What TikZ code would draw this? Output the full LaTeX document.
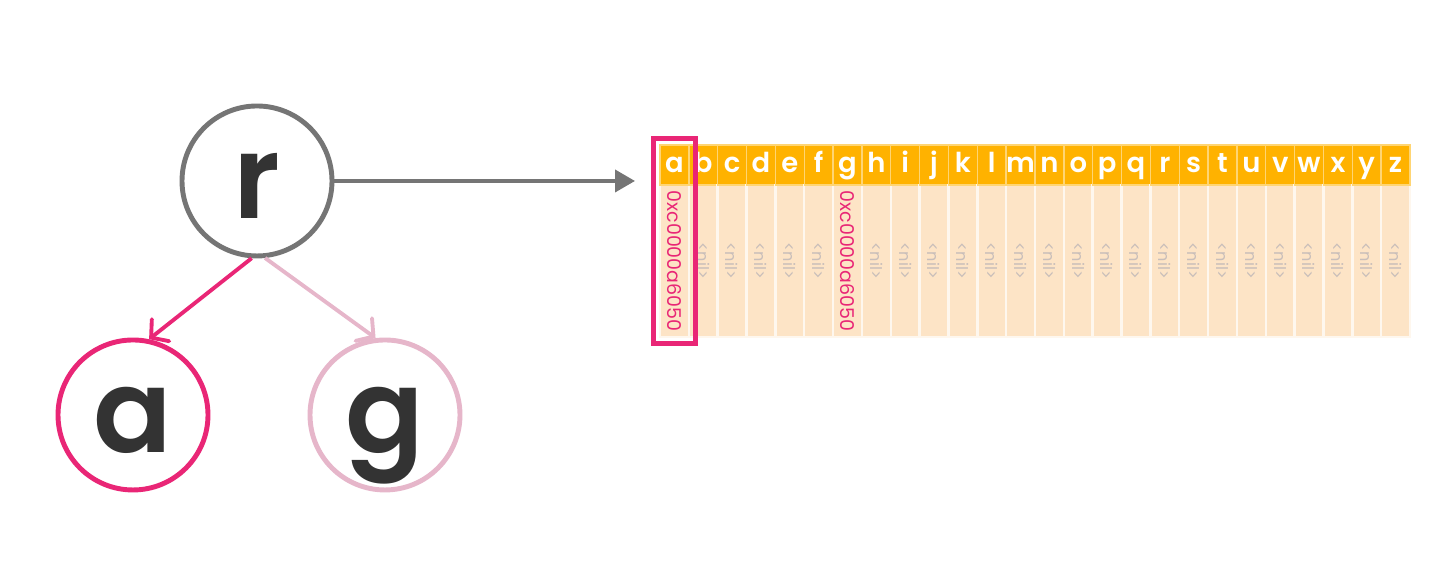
\documentclass[tikz,border=0pt]{standalone}
\usepackage{fontspec}
\setmainfont{Poppins}
\newfontfamily\letterfont{Poppins SemiBold}
\usetikzlibrary{positioning, arrows.meta, fit}
\definecolor{mygray}{RGB}{117,117,117}
\definecolor{mydark}{RGB}{51,51,51}
\definecolor{mypink}{RGB}{233,38,118}
\definecolor{mylightpink}{RGB}{230,182,202}
\definecolor{myorange}{RGB}{255,178,0}
\definecolor{mypeach}{RGB}{253,228,198}
\definecolor{mynil}{RGB}{200,190,186}

\begin{document}
\begin{tikzpicture}[
  letter/.style={circle, minimum size=1.5cm, inner sep=0pt, line width=1.4pt, fill=white, text=mydark, font=\fontsize{33}{33}\letterfont, text height=0.76cm, text depth=0cm},
  hcell/.style={rectangle, minimum width=0.2885cm, minimum height=0.40cm, inner sep=0pt, fill=myorange, draw=myorange!55!white, line width=0.4pt, text=white, font=\fontsize{7.8}{7.8}\letterfont, text height=0.16cm, text depth=0cm},
  bcell/.style={rectangle, minimum width=0.2885cm, minimum height=1.52cm, inner sep=0pt, fill=mypeach, draw=white!70!mypeach, line width=0.7pt},
  addr/.style={rotate=-90, text=mypink, font=\fontsize{5.4}{5.4}\selectfont},
  niltext/.style={rotate=-90, text=mynil, font=\fontsize{4.6}{4.6}\selectfont},
  edge/.style={line width=1.1pt, -{Straight Barb[length=1.2mm, width=2.8mm, line width=1.1pt, line cap=round]}},
  pointer/.style={line width=1.1pt, -{Triangle[length=0.2cm, width=0.22cm]}}
]
\useasboundingbox (0,0) rectangle (14.54,5.70);

% Tree
\node[letter, draw=mygray] (r) at (2.57,3.89) {r};
\node[letter, draw=mypink] (a) at (1.33,1.55) {a};
\node[letter, draw=mylightpink] (g) at (3.85,1.55) {g};

\draw[edge, mypink] (r.-94) -- (a.78);
\draw[edge, mylightpink] (r.-84) -- (g.97);

% Children array
\foreach \ch [count=\i] in {a,b,c,d,e,f,g,h,i,j,k,l,m,n,o,p,q,r,s,t,u,v,w,x,y,z} {
  \node[bcell] (b\ch) at ({6.60+0.28846*(\i-0.5)},3.09) {};
  \node[hcell] (h\ch) at ({6.60+0.28846*(\i-0.5)},4.05) {\ch};
}

\node[addr] (pa) at (ba) {0xc0000a6050};
\node[addr] (pg) at (bg) {0xc0000a6050};
\foreach \ch in {b,c,d,e,f,h,i,j,k,l,m,n,o,p,q,r,s,t,u,v,w,x,y,z}
  \node[niltext] (n\ch) at (b\ch) {<nil>};

% Selected slot
\node[fit=(ha)(ba), draw=mypink, line width=1.4pt, inner xsep=0.05cm, inner ysep=0.055cm] (sel) {};

% Pointer to the array
\coordinate (arr) at (6.35,3.89);
\draw[pointer, mygray] (r) -- (arr);

\end{tikzpicture}
\end{document}
